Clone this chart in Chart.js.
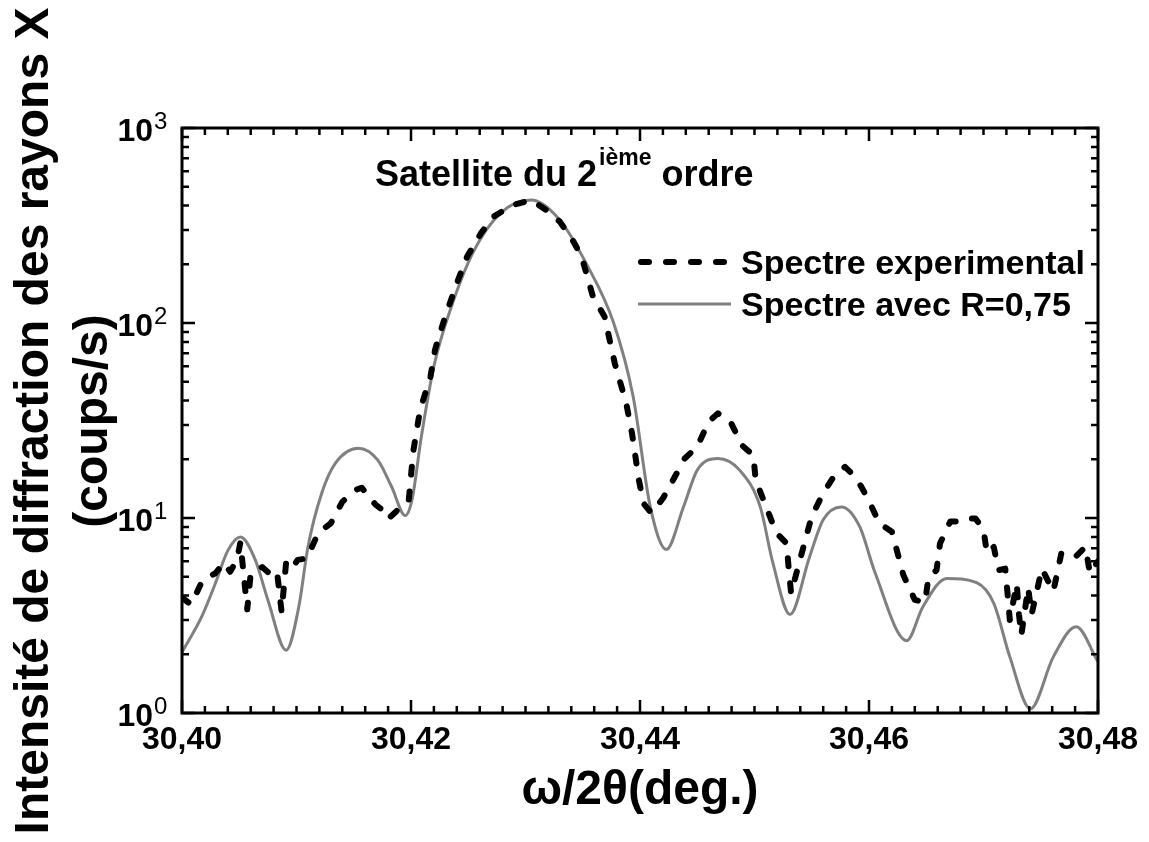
<!DOCTYPE html>
<html>
<head>
<meta charset="utf-8">
<script src="https://cdn.jsdelivr.net/npm/chart.js@4"></script>
<style>
  body { margin: 0; background: #fff; }
</style>
</head>
<body>
<canvas id="chart" width="1149" height="842"></canvas>
<script>
// experimental spectrum (omega/2theta, counts/s)
let expX = [30.4000, 30.4008, 30.4018, 30.4029, 30.4037, 30.4042, 30.4048, 30.4051, 30.4057, 30.4060,
            30.4070, 30.4078, 30.4083, 30.4087, 30.4091, 30.4097, 30.4101, 30.4109, 30.4119, 30.4130,
            30.4140, 30.4151, 30.4157, 30.4169, 30.4177, 30.4180, 30.4190, 30.4198, 30.4202, 30.4208,
            30.4217, 30.4221, 30.4229, 30.4239, 30.4249, 30.4261, 30.4272, 30.4289, 30.4305, 30.4318,
            30.4330, 30.4342, 30.4349, 30.4359, 30.4369, 30.4378, 30.4388, 30.4393, 30.4399, 30.4403,
            30.4410, 30.4420, 30.4429, 30.4439, 30.4450, 30.4460, 30.4468, 30.4479, 30.4489, 30.4499,
            30.4501, 30.4508, 30.4519, 30.4528, 30.4530, 30.4532, 30.4540, 30.4550, 30.4560, 30.4570,
            30.4579, 30.4589, 30.4599, 30.4609, 30.4620, 30.4630, 30.4640, 30.4649, 30.4652, 30.4659,
            30.4662, 30.4671, 30.4680, 30.4685, 30.4693, 30.4700, 30.4703, 30.4709, 30.4713, 30.4719,
            30.4721, 30.4723, 30.4729, 30.4731, 30.4733, 30.4739, 30.4742, 30.4751, 30.4761, 30.4768,
            30.4780, 30.4789, 30.4793, 30.4800]
let expY = [3.9, 3.6, 4.8, 5.2, 5.9, 5.3, 6.1, 7.5, 3.4, 5.2,
            5.6, 5.1, 5.3, 3.3, 6.0, 5.6, 6.1, 6.2, 8.4, 9.4,
            12.1, 13.9, 14.3, 11.7, 10.8, 9.9, 11.2, 12.3, 22, 36,
            53, 73, 104, 154, 219, 288, 351, 403, 427, 380,
            331, 261, 219, 136, 108, 62, 38.7, 27.2, 15.7, 11.9,
            10.6, 12.6, 15.7, 20.2, 23.2, 31.2, 34.4, 31.2, 23.6, 21,
            15.7, 12.3, 8.4, 7.4, 5.4, 4.1, 6.2, 10.2, 13.4, 16.6,
            18.3, 16, 12.6, 9.4, 8.5, 5.1, 3.8, 3.7, 5.0, 5.4,
            7.4, 9.6, 9.6, 9.95, 9.95, 8.7, 6.6, 7.1, 5.4, 5.5,
            4.1, 3.0, 4.6, 3.2, 2.5, 4.4, 3.2, 5.5, 4.2, 6.6,
            6.3, 7.1, 5.2, 6.0]

// simulated spectrum R=0,75
let fitX = [30.4000, 30.4017, 30.4029, 30.4040, 30.4051, 30.4064, 30.4075, 30.4091, 30.4102, 30.4110,
            30.4122, 30.4134, 30.4154, 30.4171, 30.4183, 30.4195, 30.4201, 30.4209, 30.4220, 30.4235,
            30.4255, 30.4278, 30.4305, 30.4330, 30.4353, 30.4377, 30.4394, 30.4409, 30.4423, 30.4438,
            30.4450, 30.4468, 30.4487, 30.4505, 30.4516, 30.4531, 30.4548, 30.4560, 30.4576, 30.4592,
            30.4605, 30.4633, 30.4647, 30.4668, 30.4694, 30.4709, 30.4723, 30.4741, 30.4761, 30.4781,
            30.4800]
let fitY = [2.05, 3.1, 4.6, 6.8, 8.0, 6.1, 3.8, 2.1, 3.5, 7.1,
            13.4, 19.1, 22.8, 19.8, 14.5, 10.3, 12.5, 26, 60, 120,
            235, 365, 427, 337, 202, 100, 42, 11.4, 6.9, 11.4,
            17.6, 20.2, 17.6, 11.4, 5.9, 3.2, 6.3, 9.8, 11.4, 9.0,
            5.3, 2.35, 3.5, 4.9, 4.66, 3.65, 1.94, 1.05, 1.94, 2.77,
            1.83]

let xTicks = [30.40, 30.42, 30.44, 30.46, 30.48]
let yDecades = [0, 1, 2, 3]
let seriesNames = ['Spectre experimental', 'Spectre avec R=0,75']

const FONT = "'Liberation Sans', Arial, sans-serif"
const expDash = [8, 17]

function toPoints(xs, ys) {
    return xs.map((x, i) => ({x: x, y: ys[i]}))
}

// frame, inward ticks, y labels with exponents, legend, annotation, y title
const decorPlugin = {
    id: 'decor',
    afterDraw(chart) {
        const ctx = chart.ctx
        const a = chart.chartArea
        const xs = chart.scales.x
        const ys = chart.scales.y
        ctx.save()
        ctx.strokeStyle = '#000'
        ctx.lineWidth = 3
        ctx.strokeRect(a.left, a.top, a.right - a.left, a.bottom - a.top)

        ctx.lineWidth = 2.5
        ctx.beginPath()
        for (let i = 0; i <= 40; i++) {
            let px = xs.getPixelForValue(xTicks[0] + i * 0.002)
            let len = i % 10 === 0 ? 13 : 7
            ctx.moveTo(px, a.bottom); ctx.lineTo(px, a.bottom - len)
            ctx.moveTo(px, a.top); ctx.lineTo(px, a.top + len)
        }
        yDecades.forEach(d => {
            let kmax = d === 3 ? 1 : 9
            for (let k = 1; k <= kmax; k++) {
                let py = ys.getPixelForValue(k * Math.pow(10, d))
                let len = k === 1 ? 13 : 7
                ctx.moveTo(a.left, py); ctx.lineTo(a.left + len, py)
                ctx.moveTo(a.right, py); ctx.lineTo(a.right - len, py)
            }
        })
        ctx.stroke()

        // y tick labels 10^n
        ctx.fillStyle = '#000'
        ctx.textBaseline = 'alphabetic'
        yDecades.forEach(d => {
            let py = ys.getPixelForValue(Math.pow(10, d))
            ctx.font = 'bold 32px ' + FONT
            ctx.textAlign = 'right'
            ctx.fillText('10', 153, py + 13)
            ctx.font = '24px ' + FONT
            ctx.textAlign = 'left'
            ctx.fillText(String(d), 154, py + 1)
        })

        // legend
        ctx.lineCap = 'round'
        ctx.beginPath()
        ctx.setLineDash(expDash)
        ctx.lineWidth = 6
        ctx.moveTo(641, 262); ctx.lineTo(729, 262)
        ctx.stroke()
        ctx.setLineDash([])
        ctx.lineCap = 'butt'
        ctx.strokeStyle = '#808080'
        ctx.lineWidth = 3
        ctx.beginPath()
        ctx.moveTo(638, 304); ctx.lineTo(731, 304)
        ctx.stroke()
        ctx.font = 'bold 34px ' + FONT
        ctx.textAlign = 'left'
        ctx.fillText(seriesNames[0], 741, 274)
        ctx.fillText(seriesNames[1], 741, 316)

        // annotation above the peak
        let tx = 375
        ctx.font = 'bold 36px ' + FONT
        ctx.fillText('Satellite du 2', tx, 186)
        tx += ctx.measureText('Satellite du 2').width + 2
        ctx.font = 'bold 23px ' + FONT
        ctx.fillText('ième', tx, 165)
        tx += ctx.measureText('ième').width
        ctx.font = 'bold 36px ' + FONT
        ctx.fillText(' ordre', tx, 186)

        // y axis title, two lines
        ctx.font = 'bold 48px ' + FONT
        ctx.textAlign = 'center'
        ctx.translate(0, 421)
        ctx.rotate(-Math.PI / 2)
        ctx.fillText('Intensité de diffraction des rayons X', 0, 48)
        ctx.fillText('(coups/s)', 0, 107)
        ctx.restore()
    }
}

const ctx = document.getElementById('chart').getContext('2d')
const chart = new Chart(ctx, {
    type: 'line',
    data: {
        datasets: [
            {
                label: seriesNames[0],
                data: toPoints(expX, expY),
                borderColor: '#000',
                borderWidth: 6,
                borderDash: expDash,
                borderCapStyle: 'round',
                borderJoinStyle: 'round',
                pointRadius: 0,
                tension: 0,
                fill: false
            },
            {
                label: seriesNames[1],
                data: toPoints(fitX, fitY),
                borderColor: '#808080',
                borderWidth: 3,
                pointRadius: 0,
                cubicInterpolationMode: 'monotone',
                fill: false
            }
        ]
    },
    options: {
        responsive: false,
        animation: false,
        devicePixelRatio: 1,
        layout: {
            padding: {left: 0, right: 51, top: 128, bottom: 0}
        },
        plugins: {
            legend: {display: false},
            tooltip: {enabled: false}
        },
        scales: {
            x: {
                type: 'linear',
                min: 30.40,
                max: 30.48,
                afterBuildTicks: (scale) => {
                    scale.ticks = xTicks.map(v => ({value: v}))
                },
                afterFit: (scale) => { scale.height = 129 },
                grid: {display: false, drawTicks: false},
                border: {display: false},
                ticks: {
                    padding: 8,
                    color: '#000',
                    maxRotation: 0,
                    font: {family: FONT, size: 32, weight: 'bold'},
                    callback: (v) => Number(v).toFixed(2).replace('.', ',')
                },
                title: {
                    display: true,
                    text: 'ω/2θ(deg.)',
                    color: '#000',
                    font: {family: FONT, size: 48, weight: 'bold'},
                    padding: {top: 0, bottom: 22}
                }
            },
            y: {
                type: 'logarithmic',
                min: 1,
                max: 1000,
                afterFit: (scale) => { scale.width = 182 },
                grid: {display: false, drawTicks: false},
                border: {display: false},
                ticks: {display: false}
            }
        }
    },
    plugins: [decorPlugin]
});
</script>
</body>
</html>
